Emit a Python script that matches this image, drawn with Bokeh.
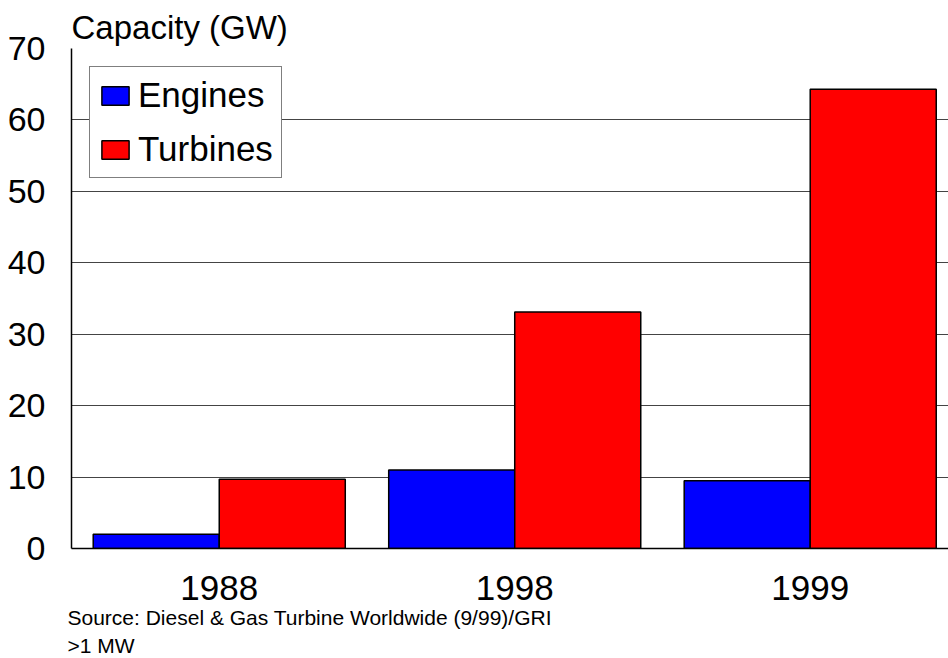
from bokeh.plotting import figure
from bokeh.models import Range1d, FixedTicker, Legend, LegendItem, Title, ColumnDataSource
from bokeh.transform import dodge
from bokeh.embed import file_html
from bokeh.resources import INLINE

years = ["1988", "1998", "1999"]
engines = [2.0, 11.0, 9.5]
turbines = [9.7, 33.1, 64.3]
y_ticks = [0, 10, 20, 30, 40, 50, 60, 70]

FONT = "Liberation Sans"
xs = [i + 0.5 for i in range(len(years))]
src = ColumnDataSource(dict(x=xs, engines=engines, turbines=turbines))

p = figure(width=948, height=658, output_backend="svg", toolbar_location=None,
           x_range=Range1d(0, 2.968), y_range=Range1d(0, 70),
           min_border_left=71, min_border_right=0, min_border_top=48, min_border_bottom=109)
p.outline_line_color = None
p.background_fill_color = "white"
p.border_fill_color = "white"

bw = 0.4265
r1 = p.vbar(x=dodge("x", -bw / 2, range=p.x_range), top="engines", width=bw, source=src,
            fill_color="#0000FF", line_color="black", line_width=1.5)
r2 = p.vbar(x=dodge("x", bw / 2, range=p.x_range), top="turbines", width=bw, source=src,
            fill_color="#FF0000", line_color="black", line_width=1.5)

p.xgrid.visible = False
p.ygrid.ticker = FixedTicker(ticks=y_ticks)
p.ygrid.grid_line_color = "#444444"
p.ygrid.grid_line_width = 1

p.yaxis.ticker = FixedTicker(ticks=y_ticks)
p.yaxis.axis_line_color = "black"
p.yaxis.axis_line_width = 1.5
p.yaxis.major_tick_line_color = None
p.yaxis.minor_tick_line_color = None
p.yaxis.major_label_standoff = 20
p.yaxis.major_label_text_font = FONT
p.yaxis.major_label_text_font_size = "34px"
p.yaxis.major_label_text_color = "black"

p.xaxis.ticker = FixedTicker(ticks=xs)
p.xaxis.major_label_overrides = {x: y for x, y in zip(xs, years)}
p.xaxis.axis_line_color = "black"
p.xaxis.axis_line_width = 1.5
p.xaxis.major_tick_line_color = None
p.xaxis.minor_tick_line_color = None
p.xaxis.major_label_standoff = 21
p.xaxis.major_label_text_font = FONT
p.xaxis.major_label_text_font_size = "35px"
p.xaxis.major_label_text_color = "black"

legend = Legend(items=[LegendItem(label="Engines", renderers=[r1]),
                       LegendItem(label="Turbines", renderers=[r2])],
                location="top_left", label_text_font=FONT, label_text_font_size="35px",
                label_text_color="black",
                border_line_color="black", border_line_width=1.5,
                glyph_width=34, glyph_height=23, spacing=14, padding=8, margin=18,
                label_standoff=6, background_fill_alpha=1)
p.add_layout(legend)

p.add_layout(Title(text="Capacity (GW)", align="left", offset=0, standoff=6,
                   text_font=FONT, text_font_size="33px", text_font_style="normal",
                   text_color="black"), "above")
p.add_layout(Title(text="Source: Diesel & Gas Turbine Worldwide (9/99)/GRI", align="left",
                   offset=-4, standoff=3, text_font=FONT, text_font_size="21px",
                   text_font_style="normal", text_color="black"), "below")
p.add_layout(Title(text=">1 MW", align="left",
                   offset=-4, standoff=3, text_font=FONT, text_font_size="21px",
                   text_font_style="normal", text_color="black"), "below")

open("out.html", "w").write(file_html(p, INLINE))
